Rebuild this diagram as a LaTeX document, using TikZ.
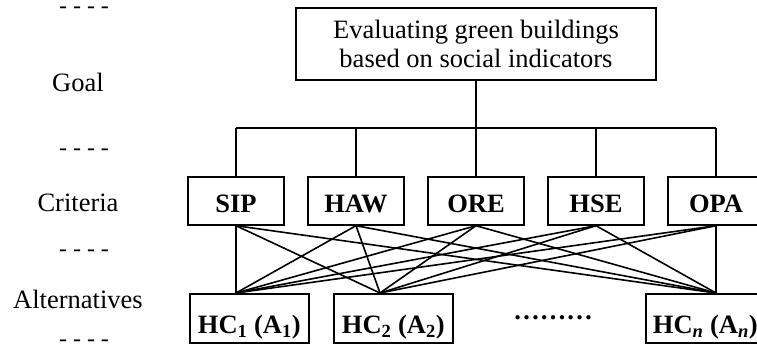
\documentclass[tikz,border=0pt]{standalone}
\usepackage{fontspec}
\setmainfont{Liberation Serif}
\begin{document}
\begin{tikzpicture}[x=1pt,y=-1pt,
  every node/.style={font=\fontsize{26.5}{29.5}\selectfont},
  box/.style={draw,line width=1.7pt,inner xsep=4pt,inner ysep=0pt},
  goalbox/.style={box,minimum width=360pt,minimum height=72pt,align=center},
  critbox/.style={box,minimum width=96pt,text height=36pt,text depth=12pt,font=\fontsize{26.5}{29.5}\selectfont\bfseries},
  altbox/.style={box,minimum width=119pt,text height=40pt,text depth=9pt,font=\fontsize{26.5}{29.5}\selectfont\bfseries},
  lvl/.style={anchor=base},
  dsh/.style={anchor=base,font=\fontsize{24}{28}\selectfont},
  conn/.style={line width=1.6pt}]
\useasboundingbox (0,0) rectangle (757,347);

% left labels
\node[dsh] (d1) at (84,14) {- - - -};
\node[lvl] (lg) at (78,92) {Goal};
\node[dsh] (d2) at (84,156) {- - - -};
\node[lvl] (lc) at (78,212) {Criteria};
\node[dsh] (d3) at (84,256) {- - - -};
\node[lvl] (la) at (78,308) {Alternatives};
\node[dsh] (d4) at (84,346) {- - - -};

% goal
\node[goalbox] (g) at (476,44) {Evaluating green buildings\\based on social indicators};

% criteria
\node[critbox,anchor=north] (c1) at (236,176) {SIP};
\node[critbox,anchor=north] (c2) at (356,176) {HAW};
\node[critbox,anchor=north] (c3) at (476,176) {ORE};
\node[critbox,anchor=north] (c4) at (596,176) {HSE};
\node[critbox,anchor=north] (c5) at (716,176) {OPA};

% alternatives
\node[altbox,anchor=north west] (h1) at (189,293) {HC\textsubscript{1} (A\textsubscript{1})};
\node[altbox,anchor=north west] (h2) at (333,293) {HC\textsubscript{2} (A\textsubscript{2})};
\node[altbox,anchor=north west] (hn) at (645,293) {HC\textsubscript{\textit{n}} (A\textsubscript{\textit{n}})};
\node[anchor=base,font=\fontsize{26.5}{29.5}\selectfont\bfseries] (dots) at (553,319) {………};

% hierarchy bar
\coordinate (bar) at (0,128);
\draw[conn] (g.south) -- (g.south |- bar);
\draw[conn] (c1.north |- bar) -- (c5.north |- bar);
\foreach \c in {c1,c2,c3,c4,c5} {
  \draw[conn] (\c.north) -- (\c.north |- bar);
}

% attachment points
\coordinate (p1) at (h1.north -| c1);
\coordinate (p2) at ([xshift=47pt]h2.north west);
\coordinate (pn) at (hn.north -| c5);

\foreach \c in {c1,c2,c3,c4,c5} {
  \foreach \p in {p1,p2,pn} {
    \draw[conn] (\c.south) -- (\p);
  }
}
\end{tikzpicture}
\end{document}
